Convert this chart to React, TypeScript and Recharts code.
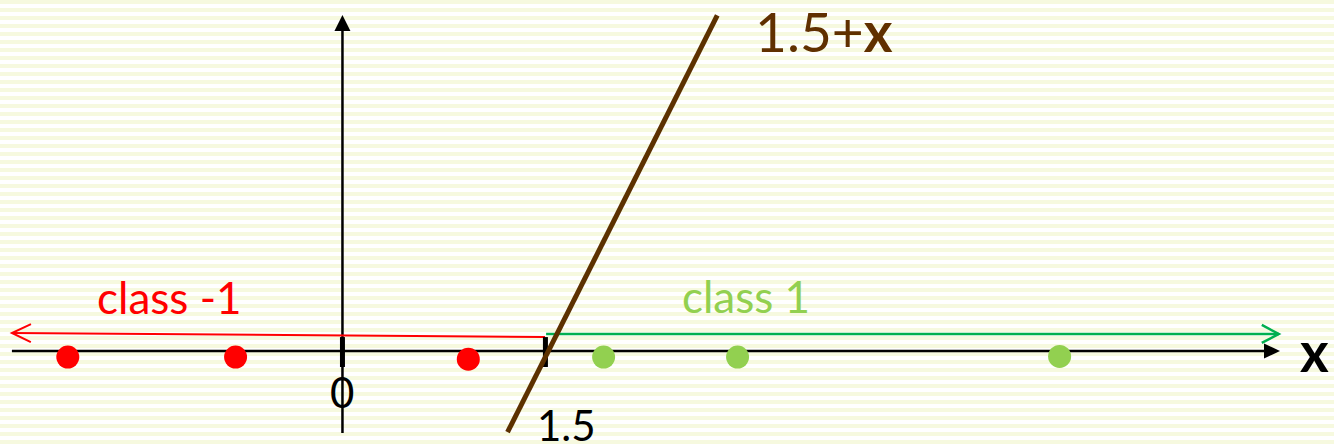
import React from 'react';
import { ComposedChart, XAxis, YAxis, Line, Scatter, ReferenceLine, ReferenceDot } from 'recharts';

// 1-D data on the x axis, with the separating line 1.5 + x
const redPoints = [
    { x: -2.03, y: -0.045 },
    { x: -0.79, y: -0.045 },
    { x: 0.93, y: -0.06 },
];
const greenPoints = [
    { x: 1.93, y: -0.045 },
    { x: 2.92, y: -0.045 },
    { x: 5.3, y: -0.04 },
];
const decisionLine = [
    { x: 1.22, y: -0.6 },
    { x: 2.77, y: 2.48 },
];
const tickValues = [0, 1.5];

const labels = [
    { x: -1.814, y: 0.273, text: 'class -1', color: '#ff0000', size: 44 },
    { x: 2.509, y: 0.281, text: 'class 1', color: '#92d050', size: 44 },
    { x: -0.092, y: -0.421, text: '0', color: '#000000', size: 42 },
    { x: 1.437, y: -0.665, text: '1.5', color: '#000000', size: 42 },
];

const X_DOMAIN = [-2.531, 7.328];
const Y_DOMAIN = [-0.702, 2.594];

type HeadType = 'filled' | 'open' | 'none';

const arrowShape = (color: string, width: number, head: HeadType, len: number, half: number) => (props: any) => {
    const { x1, y1, x2, y2 } = props;
    const dx = x2 - x1;
    const dy = y2 - y1;
    const d = Math.sqrt(dx * dx + dy * dy) || 1;
    const ux = dx / d;
    const uy = dy / d;
    const bx = x2 - ux * len;
    const by = y2 - uy * len;
    const px = -uy * half;
    const py = ux * half;
    const endX = head === 'filled' ? bx : x2;
    const endY = head === 'filled' ? by : y2;
    return (
        <g>
            <line x1={x1} y1={y1} x2={endX} y2={endY} stroke={color} strokeWidth={width} />
            {head === 'filled' && (
                <polygon points={`${x2},${y2} ${bx + px},${by + py} ${bx - px},${by - py}`} fill={color} />
            )}
            {head === 'open' && (
                <polyline
                    points={`${bx + px},${by + py} ${x2},${y2} ${bx - px},${by - py}`}
                    fill="none"
                    stroke={color}
                    strokeWidth={width}
                />
            )}
        </g>
    );
};

const dotShape = (color: string) => (props: any) => (
    <circle cx={props.cx} cy={props.cy} r={11.5} fill={color} />
);

const textShape = (text: string, color: string, size: number) => (props: any) => (
    <text x={props.cx} y={props.cy} fill={color} fontSize={size} fontFamily="Lato, sans-serif">
        {text}
    </text>
);

const brownLabel = (props: any) => (
    <text x={props.cx} y={props.cy} fill="#603000" fontSize={55} fontFamily="Lato, sans-serif">
        1.5+<tspan fontWeight="bold">x</tspan>
    </text>
);

const axisLabel = (props: any) => (
    <text x={props.cx} y={props.cy} fill="#000000" fontSize={55} fontWeight="bold" fontFamily="Lato, sans-serif">
        x
    </text>
);

export default function App() {
    return (
        <div
            style={{
                position: 'absolute',
                left: 0,
                top: 0,
                width: 1334,
                height: 446,
                background: 'repeating-linear-gradient(to bottom, #f6f9df 0px, #f6f9df 4px, #ffffff 4px, #ffffff 8px)',
            }}
        >
            <ComposedChart width={1334} height={446} margin={{ top: 0, right: 0, bottom: 0, left: 0 }}>
                <XAxis type="number" dataKey="x" domain={X_DOMAIN} allowDataOverflow hide />
                <YAxis type="number" dataKey="y" domain={Y_DOMAIN} allowDataOverflow hide />

                {/* axes */}
                <ReferenceLine
                    segment={[{ x: -2.443, y: 0 }, { x: 6.929, y: 0 }]}
                    shape={arrowShape('#000000', 2.5, 'filled', 16, 7.5)}
                />
                <ReferenceLine
                    segment={[{ x: 0, y: -0.606 }, { x: 0, y: 2.483 }]}
                    shape={arrowShape('#000000', 2.5, 'filled', 16, 8)}
                />

                {/* class arrows */}
                <ReferenceLine
                    segment={[{ x: 1.497, y: 0.1035 }, { x: -2.443, y: 0.133 }]}
                    shape={arrowShape('#ff0000', 2, 'open', 19, 9)}
                />
                <ReferenceLine
                    segment={[{ x: 1.505, y: 0.126 }, { x: 6.92, y: 0.126 }]}
                    shape={arrowShape('#00b050', 2.5, 'open', 17, 9)}
                />

                {tickValues.map((t) => (
                    <ReferenceLine
                        key={t}
                        segment={[{ x: t, y: 0.103 }, { x: t, y: -0.118 }]}
                        stroke="#000000"
                        strokeWidth={5}
                    />
                ))}

                <Line
                    data={decisionLine}
                    dataKey="y"
                    type="linear"
                    stroke="#5c3100"
                    strokeWidth={5}
                    dot={false}
                    isAnimationActive={false}
                />

                <Scatter data={redPoints} shape={dotShape('#ff0000')} isAnimationActive={false} />
                <Scatter data={greenPoints} shape={dotShape('#92d050')} isAnimationActive={false} />

                {labels.map((l) => (
                    <ReferenceDot key={l.text} x={l.x} y={l.y} r={0} shape={textShape(l.text, l.color, l.size)} />
                ))}
                <ReferenceDot x={3.049} y={2.21} r={0} shape={brownLabel} />
                <ReferenceDot x={7.077} y={-0.155} r={0} shape={axisLabel} />
            </ComposedChart>
        </div>
    );
}
